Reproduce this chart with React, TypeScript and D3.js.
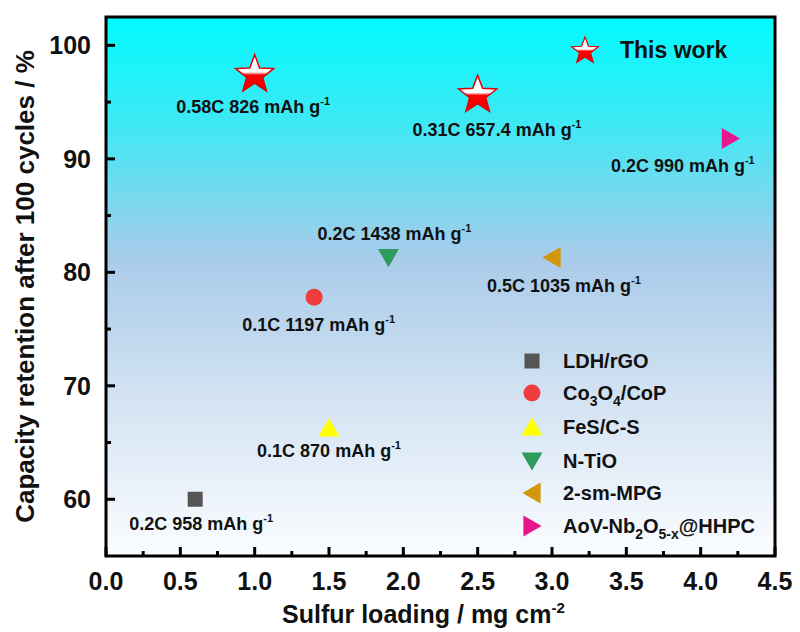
import React from "react";
import * as d3 from "d3";

const W = 800;
const H = 632;

const xTicks = [0, 0.5, 1.0, 1.5, 2.0, 2.5, 3.0, 3.5, 4.0, 4.5];
const yTicks = [60, 70, 80, 90, 100];
const xMinorTicks = [0.25, 0.75, 1.25, 1.75, 2.25, 2.75, 3.25, 3.75, 4.25];
const yMinorTicks = [65, 75, 85, 95];

// This work points
const thisWorkX = [1.0, 2.5];
const thisWorkY = [97.5, 95.7];
const thisWorkLabels = ["0.58C 826 mAh g", "0.31C 657.4 mAh g"];
const thisWorkLabelX = [0.99, 2.63];
const thisWorkLabelY = [94.05, 92.0];

// Comparison materials
const materials = ["LDH/rGO", "Co3O4/CoP", "FeS/C-S", "N-TiO", "2-sm-MPG", "AoV-Nb2O5-x@HHPC"];
const loadings = [0.6, 1.4, 1.5, 1.9, 3.0, 4.2];
const retentions = [60, 77.8, 66.3, 81.3, 81.3, 91.8];
const rateLabels = ["0.2C 958 mAh g", "0.1C 1197 mAh g", "0.1C 870 mAh g", "0.2C 1438 mAh g", "0.5C 1035 mAh g", "0.2C 990 mAh g"];
const labelX = [0.64, 1.43, 1.5, 1.94, 3.08, 3.88];
const labelY = [57.25, 74.8, 63.7, 82.85, 78.3, 88.85];
const symbols = ["square", "circle", "up", "down", "left", "right"];
const colors = ["#555555", "#f03c3c", "#ffff00", "#2e9c5c", "#d4960c", "#e8168c"];

const margin = { left: 106, right: 25, top: 17, bottom: 76 };

function markerSize(kind: string): number {
  if (kind === "square") return 15;
  if (kind === "circle") return 17;
  return 21;
}

function markerPath(kind: string, s: number): string {
  const h = s * 0.82;
  switch (kind) {
    case "square":
      return `M${-s / 2},${-s / 2}h${s}v${s}h${-s}Z`;
    case "circle":
      return d3.arc()({ innerRadius: 0, outerRadius: s / 2, startAngle: 0, endAngle: 2 * Math.PI }) as string;
    case "up":
      return `M0,${-h / 2 - 1}L${s / 2},${h / 2}L${-s / 2},${h / 2}Z`;
    case "down":
      return `M0,${h / 2 + 1}L${s / 2},${-h / 2}L${-s / 2},${-h / 2}Z`;
    case "left":
      return `M${-h / 2 - 1},0L${h / 2},${-s / 2}L${h / 2},${s / 2}Z`;
    case "right":
      return `M${h / 2 + 1},0L${-h / 2},${-s / 2}L${-h / 2},${s / 2}Z`;
  }
  return "";
}

function starPath(outer: number): string {
  const inner = outer * 0.42;
  const pts: [number, number][] = [];
  for (let i = 0; i < 10; i++) {
    const r = i % 2 === 0 ? outer : inner;
    const a = -Math.PI / 2 + (i * Math.PI) / 5;
    pts.push([r * Math.cos(a), r * Math.sin(a)]);
  }
  return d3.line()(pts) + "Z";
}

function legendLabel(name: string) {
  if (name === "Co3O4/CoP")
    return (
      <>
        Co<tspan dy={6} fontSize={14}>3</tspan>
        <tspan dy={-6}>O</tspan>
        <tspan dy={6} fontSize={14}>4</tspan>
        <tspan dy={-6}>/CoP</tspan>
      </>
    );
  if (name === "AoV-Nb2O5-x@HHPC")
    return (
      <>
        AoV-Nb<tspan dy={6} fontSize={14}>2</tspan>
        <tspan dy={-6}>O</tspan>
        <tspan dy={6} fontSize={14}>5-x</tspan>
        <tspan dy={-6}>@HHPC</tspan>
      </>
    );
  return name;
}

export default function App() {
  const x = d3.scaleLinear().domain([0, 4.5]).range([margin.left, W - margin.right]);
  const y = d3.scaleLinear().domain([55, 102.5]).range([H - margin.bottom, margin.top]);
  const [x0, x1] = x.range();
  const [yb, yt] = y.range();
  const font = "'Liberation Sans', Arial, sans-serif";

  const lx = 532;
  const ltx = 563;
  const legendY = [361, 393, 427, 461, 493, 526];

  return (
    <svg width={W} height={H} style={{ position: "absolute", left: 0, top: 0 }} fontFamily={font}>
      <defs>
        <linearGradient id="bg" x1="0" y1="0" x2="0" y2="1">
          <stop offset="0" stopColor="#00fbff" />
          <stop offset="0.2" stopColor="#3fe8f4" />
          <stop offset="0.45" stopColor="#a9cbea" />
          <stop offset="0.7" stopColor="#d2e2f2" />
          <stop offset="1" stopColor="#fbfdff" />
        </linearGradient>
        <linearGradient id="starfill" x1="0" y1="0" x2="0" y2="1">
          <stop offset="0" stopColor="#ffffff" />
          <stop offset="0.48" stopColor="#ffffff" />
          <stop offset="0.56" stopColor="#ff0000" />
          <stop offset="1" stopColor="#ee0000" />
        </linearGradient>
      </defs>
      <rect x={0} y={0} width={W} height={H} fill="#ffffff" />
      <rect x={x0} y={yt} width={x1 - x0} height={yb - yt} fill="url(#bg)" />

      {/* ticks */}
      {xTicks.map((t) => (
        <line key={"xt" + t} x1={x(t)} x2={x(t)} y1={yb} y2={yb - 9} stroke="#000" strokeWidth={3} />
      ))}
      {xMinorTicks.map((t) => (
        <line key={"xm" + t} x1={x(t)} x2={x(t)} y1={yb} y2={yb - 5} stroke="#000" strokeWidth={3} />
      ))}
      {yTicks.map((t) => (
        <line key={"yt" + t} x1={x0} x2={x0 + 9} y1={y(t)} y2={y(t)} stroke="#000" strokeWidth={3} />
      ))}
      {yMinorTicks.map((t) => (
        <line key={"ym" + t} x1={x0} x2={x0 + 5} y1={y(t)} y2={y(t)} stroke="#000" strokeWidth={3} />
      ))}
      <rect x={x0} y={yt} width={x1 - x0} height={yb - yt} fill="none" stroke="#000" strokeWidth={3} />

      {/* tick labels */}
      {xTicks.map((t) => (
        <text key={"xl" + t} x={x(t)} y={yb + 34} textAnchor="middle" fontSize={25} fontWeight="bold" fill="#111">
          {t.toFixed(1)}
        </text>
      ))}
      {yTicks.map((t) => (
        <text key={"yl" + t} x={91} y={y(t) + 9} textAnchor="end" fontSize={25} fontWeight="bold" fill="#111">
          {t}
        </text>
      ))}

      {/* axis titles */}
      <text x={282} y={623} textAnchor="start" fontSize={25} fontWeight="bold" fill="#111">
        Sulfur loading / mg cm<tspan dy={-10} fontSize={15}>-2</tspan>
      </text>
      <text
        transform={`translate(34, ${(yt + yb) / 2}) rotate(-90)`}
        textAnchor="middle"
        fontSize={26}
        fontWeight="bold"
        fill="#111"
      >
        Capacity retention after 100 cycles / %
      </text>

      {/* comparison markers */}
      {materials.map((m, i) => (
        <path
          key={"pt" + m}
          d={markerPath(symbols[i], markerSize(symbols[i]))}
          transform={`translate(${x(loadings[i])},${y(retentions[i])})`}
          fill={colors[i]}
        />
      ))}
      {rateLabels.map((l, i) => (
        <text key={"rl" + i} x={x(labelX[i])} y={y(labelY[i])} textAnchor="middle" fontSize={18} fontWeight="bold" fill="#111">
          {l}
          <tspan dy={-8} fontSize={11}>-1</tspan>
        </text>
      ))}

      {/* this work */}
      {thisWorkX.map((v, i) => (
        <path
          key={"star" + i}
          d={starPath(20)}
          transform={`translate(${x(v)},${y(thisWorkY[i]) + 1})`}
          fill="url(#starfill)"
          stroke="#e00000"
          strokeWidth={1.5}
        />
      ))}
      {thisWorkLabels.map((l, i) => (
        <text key={"tw" + i} x={x(thisWorkLabelX[i])} y={y(thisWorkLabelY[i])} textAnchor="middle" fontSize={18} fontWeight="bold" fill="#111">
          {l}
          <tspan dy={-8} fontSize={11}>-1</tspan>
        </text>
      ))}

      {/* legend */}
      <path d={starPath(14)} transform="translate(585,51)" fill="url(#starfill)" stroke="#e00000" strokeWidth={1.2} />
      <text x={620} y={58} fontSize={23} fontWeight="bold" fill="#111">
        This work
      </text>
      {materials.map((m, i) => (
        <g key={"lg" + m}>
          <path
            d={markerPath(symbols[i], markerSize(symbols[i]))}
            transform={`translate(${lx},${legendY[i]})`}
            fill={colors[i]}
          />
          <text x={ltx} y={legendY[i] + 7} fontSize={20} fontWeight="bold" fill="#111">
            {legendLabel(m)}
          </text>
        </g>
      ))}
    </svg>
  );
}
